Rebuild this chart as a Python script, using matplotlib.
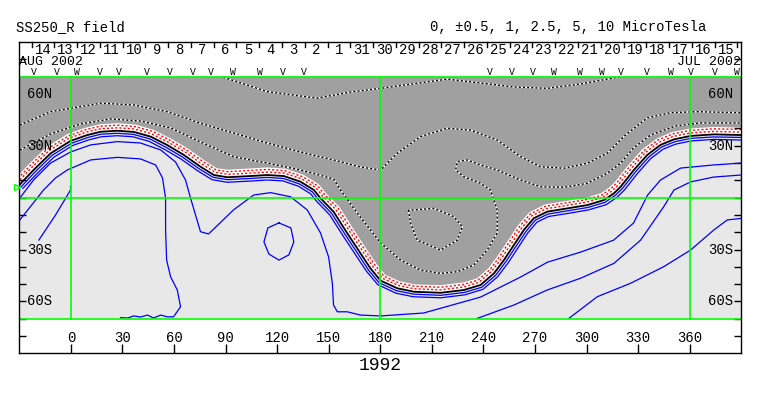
import matplotlib
matplotlib.use("Agg")
import matplotlib.pyplot as plt

# ---------------- data ----------------
day_labels = [14, 13, 12, 11, 10, 9, 8, 7, 6, 5, 4, 3, 2, 1, 31, 30, 29, 28, 27, 26,
              25, 24, 23, 22, 21, 20, 19, 18, 17, 16, 15]
lon_ticks = [0, 30, 60, 90, 120, 150, 180, 210, 240, 270, 300, 330, 360]
lat_labels = {60: "60N", 30: "30N", -30: "30S", -60: "60S"}

sector_lon = [-21.5, -7.9, 3.3, 16.7, 27.9, 44.4, 57.6, 71.2, 81.7, 94.2, 109.9, 123.5, 135.5,
              243.5, 256.7, 268.7, 280.9, 296.0, 308.7, 320.1, 335.2, 348.8, 360.8, 374.9, 387.6]
sector_sym = ["V", "V", "W", "V", "V", "V", "V", "V", "V", "W", "W", "V", "V",
              "V", "V", "V", "W", "W", "W", "V", "V", "W", "V", "V", "W"]

# neutral line (0 level)
n0_lon = [-30, -21.7, -11.8, -0.2, 9.5, 17.3, 27.0, 36.6, 46.4, 56.1, 65.7, 75.4, 83.2, 91.0,
          104.5, 114.2, 123.9, 133.6, 141.4, 145.3, 152.8, 160.8, 168.5, 174.3, 180.2, 189.9,
          199.5, 215.1, 228.6, 238.3, 246.1, 251.9, 257.7, 263.5, 269.3, 277.1, 288.8, 300.4,
          310.1, 315.9, 319.8, 327.5, 335.3, 343.0, 350.8, 360.5, 374.0, 390.3]
n0_lat = [7.3, 16.0, 25.6, 32.8, 36.2, 38.1, 38.7, 38.0, 35.3, 30.4, 24.7, 17.9, 13.1, 11.8,
          12.5, 13.1, 12.5, 9.2, 4.4, -0.4, -8.1, -20.6, -32.2, -40.9, -48.0, -52.4,
          -54.4, -55.0, -53.4, -50.5, -43.8, -36.1, -27.4, -18.7, -11.9, -8.1, -6.2, -4.3,
          -1.4, 2.5, 6.3, 16.0, 24.7, 30.5, 33.7, 35.7, 36.6, 36.2]

# red dotted lines (weak negative levels)
r1_lon = [-31.3, -23.0, -12.9, -1.0, 9.0, 17.1, 27.0, 36.9, 47.0, 56.9, 66.7, 76.4, 83.8, 91.1,
          104.4, 114.2, 124.2, 134.3, 142.5, 146.6, 154.2, 162.3, 169.9, 175.7, 181.2, 190.4,
          199.7, 215.0, 228.3, 237.4, 244.8, 250.5, 256.3, 262.1, 268.2, 276.6, 288.5, 300.0,
          309.4, 314.8, 318.5, 326.2, 334.1, 342.1, 350.3, 360.3, 374.0, 390.3]
r1_lat = [8.5, 17.2, 27.0, 34.4, 37.9, 39.8, 40.4, 39.7, 36.9, 31.9, 26.2, 19.3, 14.7, 13.5,
          14.2, 14.8, 14.2, 10.8, 5.7, 0.8, -7.0, -19.7, -31.2, -39.9, -46.6, -50.7,
          -52.7, -53.3, -51.7, -49.0, -42.6, -35.1, -26.4, -17.7, -10.5, -6.4, -4.5, -2.6,
          0.2, 3.9, 7.4, 17.1, 26.0, 32.0, 35.4, 37.4, 38.3, 37.9]
r2_lon = [-32.4, -24.0, -13.8, -1.6, 8.5, 16.9, 27.0, 37.2, 47.6, 57.6, 67.5, 77.2, 84.4, 91.1,
          104.3, 114.2, 124.5, 134.9, 143.4, 147.7, 155.4, 163.5, 171.2, 176.9, 182.1, 190.9,
          199.8, 215.0, 228.0, 236.7, 243.8, 249.3, 255.0, 260.9, 267.3, 276.2, 288.3, 299.7,
          308.8, 313.9, 317.4, 325.0, 333.1, 341.4, 349.9, 360.1, 373.9, 390.4]
r2_lat = [9.4, 18.2, 28.1, 35.6, 39.3, 41.3, 41.9, 41.1, 38.3, 33.2, 27.4, 20.6, 16.1, 15.0,
          15.7, 16.3, 15.6, 12.1, 6.9, 1.7, -6.1, -18.9, -30.4, -39.0, -45.4, -49.4,
          -51.2, -51.8, -50.3, -47.7, -41.6, -34.2, -25.6, -16.8, -9.4, -5.0, -3.0, -1.2,
          1.5, 5.0, 8.4, 18.0, 27.0, 33.3, 36.8, 38.9, 39.8, 39.4]
# edge of the shaded negative area
g_lon = [-33.2, -24.8, -14.5, -2.2, 8.2, 16.7, 27.0, 37.4, 48.0, 58.2, 68.1, 77.8, 84.8, 91.1,
         104.2, 114.2, 124.8, 135.4, 144.2, 148.5, 156.3, 164.5, 172.1, 177.8, 182.8, 191.2,
         199.9, 215.0, 227.8, 236.2, 242.9, 248.3, 254.1, 260.0, 266.6, 275.8, 288.1, 299.4,
         308.4, 313.2, 316.5, 324.2, 332.3, 340.8, 349.5, 360.0, 373.9, 390.4]
g_lat = [10.2, 19.0, 29.0, 36.7, 40.4, 42.4, 43.1, 42.3, 39.3, 34.2, 28.4, 21.5, 17.1, 16.2,
         16.9, 17.5, 16.8, 13.2, 7.8, 2.5, -5.4, -18.3, -29.8, -38.3, -44.5, -48.3,
         -50.1, -50.6, -49.1, -46.7, -40.8, -33.6, -25.0, -16.1, -8.5, -3.9, -1.9, -0.1,
         2.6, 5.9, 9.1, 18.8, 27.9, 34.2, 37.9, 40.0, 40.9, 40.5]

# positive contours (blue)
b1_lon = [-28.9, -20.7, -10.9, 0.5, 9.9, 17.5, 27.0, 36.3, 45.9, 55.4, 64.9, 74.6, 82.7, 91.0,
          104.6, 114.2, 123.6, 133.0, 140.5, 144.2, 151.6, 159.6, 167.3, 173.1, 179.3, 189.4,
          199.4, 215.1, 228.9, 239.0, 247.2, 253.1, 258.9, 264.7, 270.2, 277.5, 289.0, 300.7,
          310.7, 316.8, 320.9, 328.6, 336.3, 343.7, 351.2, 360.7, 374.0, 390.3]
b1_lat = [6.3, 15.0, 24.5, 31.5, 34.8, 36.7, 37.2, 36.6, 34.0, 29.1, 23.5, 16.7, 11.8, 10.4,
          11.1, 11.7, 11.1, 7.9, 3.3, -1.4, -9.0, -21.4, -33.0, -41.8, -49.2, -53.8,
          -55.8, -56.5, -54.8, -51.8, -44.8, -36.9, -28.2, -19.6, -13.0, -9.5, -7.6, -5.7,
          -2.7, 1.4, 5.4, 15.1, 23.6, 29.3, 32.3, 34.3, 35.1, 34.8]
b2_lon = [-27.9, -19.6, -10.0, 1.1, 10.4, 17.7, 27.0, 36.1, 45.4, 54.7, 64.1, 73.8, 82.1, 90.9,
          104.7, 114.2, 123.3, 132.4, 139.5, 143.1, 150.5, 158.4, 166.1, 172.0, 178.5, 189.0,
          199.2, 215.2, 229.2, 239.7, 248.2, 254.3, 260.1, 265.8, 271.1, 277.9, 289.3, 301.0,
          311.3, 317.7, 322.0, 329.7, 337.3, 344.5, 351.6, 360.8, 374.1, 390.2]
b2_lat = [5.4, 14.0, 23.3, 30.2, 33.4, 35.2, 35.8, 35.2, 32.6, 27.8, 22.3, 15.5, 10.4, 8.9,
          9.6, 10.2, 9.7, 6.6, 2.2, -2.3, -9.9, -22.2, -33.8, -42.6, -50.3, -55.2,
          -57.3, -57.9, -56.2, -53.0, -45.8, -37.8, -29.0, -20.4, -14.2, -10.9, -9.1, -7.1,
          -4.1, 0.2, 4.4, 14.1, 22.6, 28.0, 30.9, 32.8, 33.7, 33.3]
b3_lon = [-29.7, -21.7, -11.8, -0.2, 11.5, 27.0, 40.5, 52.2, 60.9, 66.7, 69.6, 75.4, 80.1,
          94.6, 106.3, 116.2, 127.8, 137.5, 145.2, 149.9, 152.1, 152.8, 155.0, 160.8, 168.5,
          180.2, 205.2, 238.3, 261.6, 277.3, 296.5, 315.7, 327.3, 335.5, 343.0, 354.7, 373.9, 390.1]
b3_lat = [-0.2, 10.2, 20.0, 26.4, 30.5, 32.4, 31.6, 27.6, 20.6, 10.2, -0.2, -19.7, -21.0,
          -7.1, 1.5, 2.9, 0.5, -7.1, -20.4, -34.2, -49.4, -62.1, -66.0, -66.0, -67.9,
          -68.4, -66.7, -57.5, -45.9, -37.3, -31.5, -24.6, -14.7, 1.5, 10.2, 17.1, 18.9, 20.0]
b4_lon = [-29.7, -15.9, -8.9, -2.1, 11.5, 27.0, 40.5, 49.3, 53.3, 55.1, 55.1, 55.7, 58.0,
          61.9, 63.8, 59.7, 56.1, 52.2, 48.1, 44.6, 40.5, 36.5, 33.0, 28.9]
b4_lat = [-12.9, 4.4, 11.4, 16.0, 21.8, 23.3, 22.4, 18.9, 11.4, -0.2, -18.7, -36.1, -45.7,
          -53.4, -63.1, -68.9, -68.9, -67.9, -69.6, -67.9, -69.0, -68.4, -69.6, -69.4]
b5_lon = [-18.6, -8.9, -0.2, -0.2]
b5_lat = [-24.5, -10.0, 4.4, 6.7]
b6_lon = [121.0, 128.0, 129.7, 126.8, 121.0, 115.2, 112.3, 114.6, 121.0]
b6_lat = [-14.6, -17.5, -25.6, -33.1, -36.1, -32.6, -25.6, -17.5, -14.6]
b7_lon = [236.4, 257.7, 277.1, 296.5, 315.9, 331.4, 344.9, 350.8, 360.5, 373.9, 390.1]
b7_lat = [-69.8, -62.1, -53.4, -46.6, -38.0, -24.6, -5.2, 4.4, 9.1, 11.9, 13.1]
b8_lon = [289.7, 306.2, 325.6, 344.9, 360.5, 374.0, 381.8, 390.6]
b8_lat = [-69.8, -57.3, -49.5, -39.9, -30.3, -18.7, -12.9, -11.9]

# negative contours (dashed)
d1_lon = [-29.7, -11.8, 5.6, 23.1, 40.5, 58.0, 75.4, 94.6, 114.2, 133.6, 152.8, 156.9, 167.4,
          180.2, 191.8, 203.4, 215.1, 224.8, 234.4, 242.2, 248.0, 248.0, 244.1, 238.3, 228.6,
          223.8, 224.8, 230.6, 238.3, 248.0, 261.6, 273.2, 286.8, 300.4, 312.0, 319.8, 327.3,
          337.2, 351.7, 366.3, 390.1]
d1_lat = [27.5, 36.8, 42.6, 45.5, 44.3, 40.3, 32.2, 23.7, 20.0, 16.0, 10.8, 4.4, -10.0,
          -26.2, -36.1, -41.9, -43.8, -42.8, -39.0, -30.3, -20.4, -7.1, 4.4, 8.3, 12.1,
          16.0, 20.8, 21.8, 18.9, 16.0, 10.2, 6.3, 6.0, 8.3, 14.1, 19.9, 28.7,
          36.2, 41.4, 43.2, 43.2]
d2_lon = [-29.7, -11.8, 17.3, 36.6, 56.1, 75.4, 94.6, 114.2, 133.6, 152.8, 168.5, 180.2, 189.9,
          203.4, 218.9, 232.3, 248.0, 261.6, 273.2, 286.8, 300.4, 312.0, 322.6, 335.3, 348.8,
          364.4, 390.1]
d2_lat = [42.0, 49.7, 54.6, 53.6, 49.7, 43.0, 37.4, 31.6, 26.4, 21.8, 17.7, 16.0, 25.7,
          35.3, 40.1, 39.1, 33.3, 23.7, 17.9, 17.0, 19.9, 25.7, 36.2, 46.1, 49.1,
          49.7, 49.1]
d3_lon = [88.7, 114.2, 143.3, 162.7, 180.2, 218.9, 238.3, 257.5, 277.1, 296.5, 319.8]
d3_lat = [69.6, 61.3, 57.5, 61.1, 63.2, 68.5, 66.3, 64.0, 63.2, 65.7, 70.0]
d4_lon = [196.4, 197.6, 201.5, 215.1, 224.8, 227.7, 222.8, 211.2, 199.5, 196.4]
d4_lat = [-7.1, -14.7, -24.6, -30.3, -24.6, -16.8, -11.0, -6.2, -7.1, -7.1]

# ---------------- figure ----------------
W, H = 763, 396
fig = plt.figure(figsize=(W / 100, H / 100), dpi=100)
fig.patch.set_facecolor("white")
L, R, T, B = 19.3, 741.3, 42.0, 353.3
ax = fig.add_axes([L / W, 1 - B / H, (R - L) / W, (B - T) / H])
ax.set_xlim(-30, 390)
ax.set_ylim(-90, 90)
ax.set_facecolor("white")

FONT = "Liberation Mono"
GREEN = "#00ff00"

# background of map area
ax.fill([-30, 390, 390, -30], [-70, -70, 70, 70], color="#e8e8e8", lw=0, zorder=1)
# white band between neutral line and shaded area
ax.fill(g_lon + n0_lon[::-1], g_lat + n0_lat[::-1], color="white", lw=0, zorder=1.5)
# shaded negative region
ax.fill(g_lon + [400, -40], g_lat + [70, 70], color="#a0a0a0", lw=0, zorder=2)

for lo, la in [(b1_lon, b1_lat), (b2_lon, b2_lat), (b3_lon, b3_lat), (b4_lon, b4_lat),
               (b5_lon, b5_lat), (b6_lon, b6_lat), (b7_lon, b7_lat), (b8_lon, b8_lat)]:
    ax.plot(lo, la, color="#0000ff", lw=0.9, zorder=4)

for lo, la in [(r1_lon, r1_lat), (r2_lon, r2_lat)]:
    ax.plot(lo, la, color="#ff0000", lw=1.0, dashes=(1.5, 1.5), zorder=4)

for lo, la in [(d1_lon, d1_lat), (d2_lon, d2_lat), (d3_lon, d3_lat), (d4_lon, d4_lat)]:
    ax.plot(lo, la, color="white", lw=1.0, zorder=4)
    ax.plot(lo, la, color="black", lw=1.0, dashes=(1.5, 1.5), zorder=4.1)

ax.plot(n0_lon, n0_lat, color="black", lw=1.3, zorder=5)

# green frame lines
for la in (70, 0, -70):
    ax.plot([-30, 390], [la, la], color=GREEN, lw=1.2, zorder=6)
for lo in (0, 180, 360):
    ax.plot([lo, lo], [-70, 70], color=GREEN, lw=1.2, zorder=6)

# axis ticks
ax.set_xticks(lon_ticks)
ax.set_xticklabels([])
ax.tick_params(axis="x", direction="in", length=6.5, width=1, top=False, bottom=True)
ax.set_yticks(list(range(-80, 81, 10)))
ax.set_yticklabels([])
ax.tick_params(axis="y", direction="in", length=5, width=1, left=True, right=True)
for s in ax.spines.values():
    s.set_linewidth(1.0)
    s.set_color("black")
    s.set_zorder(7)

for lo in lon_ticks:
    ax.text(lo, -81, str(lo), ha="center", va="center", family=FONT, fontsize=10, zorder=8)
for la, s in lat_labels.items():
    ax.text(-25.4, la, s, ha="left", va="center", family=FONT, fontsize=10, zorder=8)
    ax.text(385.5, la, s, ha="right", va="center", family=FONT, fontsize=10, zorder=8)

# Carrington day row
sep0, per_day = -22.86, 13.245
for k in range(len(day_labels) + 1):
    lo = sep0 + k * per_day
    ax.plot([lo, lo], [90, 87.0], color="black", lw=1, zorder=8, clip_on=False)
for k, d in enumerate(day_labels):
    ax.text(sep0 + (k + 0.5) * per_day, 85.6, str(d), ha="center", va="center",
            family=FONT, fontsize=10, zorder=8)
ax.text(-30, 78.4, "AUG 2002", ha="left", va="center", family=FONT, fontsize=9.5, zorder=8)
ax.text(390, 78.4, "JUL 2002", ha="right", va="center", family=FONT, fontsize=9.5, zorder=8)

for lo, s in zip(sector_lon, sector_sym):
    ax.text(lo, 72.6, s, ha="center", va="center", family=FONT, fontsize=7, zorder=8)

# earth latitude marker
ax.plot([-31.5], [6.2], marker=">", ms=4, color=GREEN, mfc="none", mew=1, clip_on=False, zorder=8)

fig.text(16 / W, 1 - 27 / H, "SS250_R field", ha="left", va="center", family=FONT, fontsize=10)
fig.text(430 / W, 1 - 27 / H, "0, \u00b10.5, 1, 2.5, 5, 10 MicroTesla", ha="left", va="center",
         family=FONT, fontsize=10)
fig.text(380 / W, 1 - 366 / H, "1992", ha="center", va="center", family=FONT, fontsize=13)

fig.savefig("out.png", dpi=100, facecolor="white")
